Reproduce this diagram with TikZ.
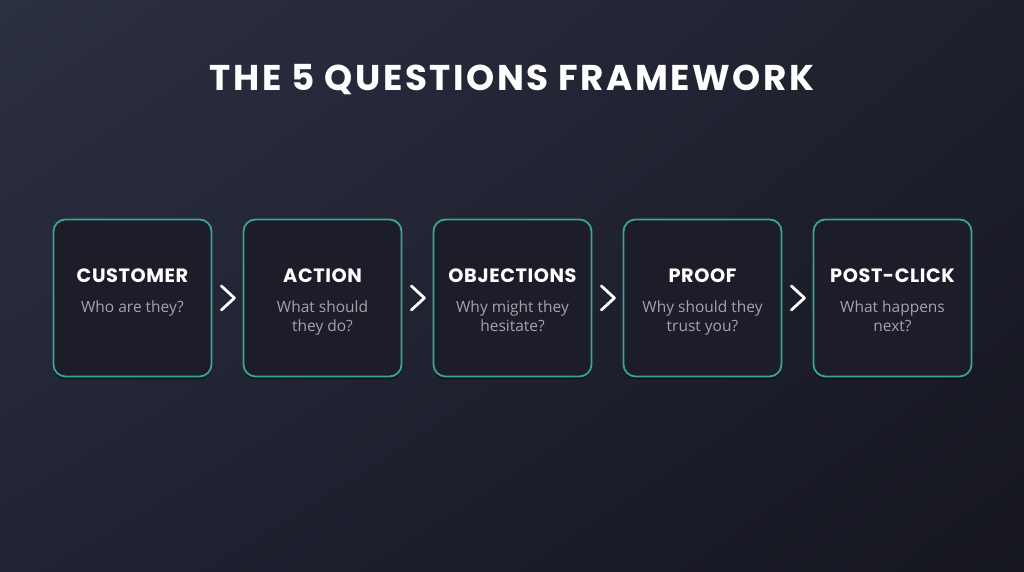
\documentclass[tikz,border=0pt]{standalone}
\usepackage{fontspec}
\setmainfont{Open Sans}
\newfontfamily\headfont{Poppins}[UprightFont=* SemiBold,BoldFont=* Bold,LetterSpace=3]
\newfontfamily\titlefont{Poppins}[UprightFont=* Bold,LetterSpace=7]
\usetikzlibrary{shadows,shadings}

\definecolor{bgtl}{HTML}{2C3043}
\definecolor{bgtr}{HTML}{1E202D}
\definecolor{bgbl}{HTML}{202333}
\definecolor{bgbr}{HTML}{15161F}
\definecolor{cardfill}{HTML}{1C1D29}
\definecolor{cardedge}{HTML}{3AA68F}
\definecolor{subgray}{HTML}{A2A3AB}

\tikzset{
  card/.style={draw=cardedge, line width=1.8pt, fill=cardfill, rounded corners=12pt,
    minimum width=158pt, minimum height=157pt,
    drop shadow={opacity=0.35, shadow xshift=0pt, shadow yshift=-3pt, fill=black}},
  head/.style={font=\headfont\bfseries\fontsize{19.3}{21}\selectfont, text=white, anchor=base},
  sub/.style={font=\fontsize{15.5}{19}\selectfont, text=subgray, align=center, anchor=north},
  chev/.style={draw=white, line width=2.8pt, line cap=round, line join=round}
}

\begin{document}
\begin{tikzpicture}[x=1pt,y=1pt]
  \shade[upper left=bgtl, upper right=bgtr, lower left=bgbl, lower right=bgbr]
    (0,0) rectangle (1024,572);
  \useasboundingbox (0,0) rectangle (1024,572);

  % title
  \node[font=\titlefont\fontsize{35.8}{38}\selectfont, text=white] (title) at (512,492) {THE 5 QUESTIONS FRAMEWORK};

  % cards
  \node[card] (customer) at (132.5,274) {};
  \node[card] (action) at (322.5,274) {};
  \node[card] (objections) at (512.5,274) {};
  \node[card] (proof) at (702.5,274) {};
  \node[card] (postclick) at (892.5,274) {};

  \node[head] (customerhead) at (132.5,289) {CUSTOMER};
  \node[sub] (customersub) at (132.5,275) {Who are they?};

  \node[head] (actionhead) at (322.5,289) {ACTION};
  \node[sub] (actionsub) at (322.5,275) {What should\\they do?};

  \node[head] (objectionshead) at (512.5,289) {OBJECTIONS};
  \node[sub] (objectionssub) at (512.5,275) {Why might they\\hesitate?};

  \node[head] (proofhead) at (702.5,289) {PROOF};
  \node[sub] (proofsub) at (702.5,275) {Why should they\\trust you?};

  \node[head] (postclickhead) at (892.5,289) {POST-CLICK};
  \node[sub] (postclicksub) at (892.5,275) {What happens\\next?};

  % chevrons
  \draw[chev] ([xshift=9pt,yshift=12pt]customer.east) -- ([xshift=22pt]customer.east) -- ([xshift=9pt,yshift=-12pt]customer.east);
  \draw[chev] ([xshift=9pt,yshift=12pt]action.east) -- ([xshift=22pt]action.east) -- ([xshift=9pt,yshift=-12pt]action.east);
  \draw[chev] ([xshift=9pt,yshift=12pt]objections.east) -- ([xshift=22pt]objections.east) -- ([xshift=9pt,yshift=-12pt]objections.east);
  \draw[chev] ([xshift=9pt,yshift=12pt]proof.east) -- ([xshift=22pt]proof.east) -- ([xshift=9pt,yshift=-12pt]proof.east);
\end{tikzpicture}
\end{document}
